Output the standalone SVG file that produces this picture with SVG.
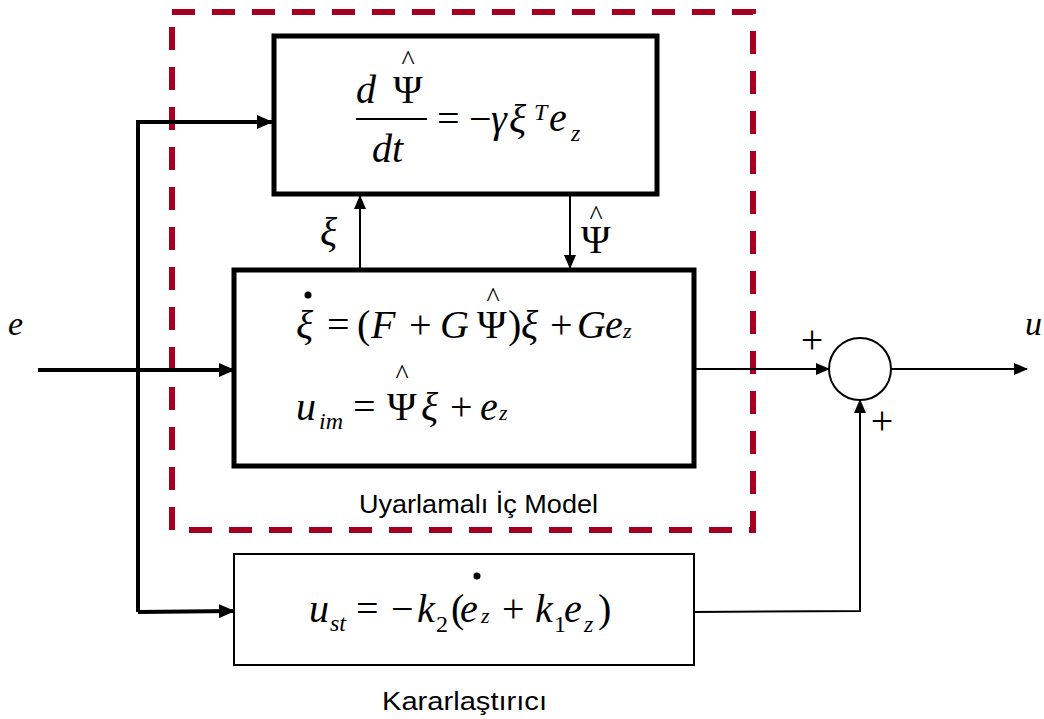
<svg xmlns="http://www.w3.org/2000/svg" width="1044" height="719" viewBox="0 0 1044 719">
<style>
.m{font-family:"Liberation Serif","Times New Roman",serif;fill:#000;font-size:40px}
.s{font-size:24px}
.z{font-size:22px}
.t{font-size:34px}
.h{font-size:28px;text-anchor:middle}
.i{font-style:italic}
.lbl{font-family:"Liberation Sans",Arial,sans-serif;fill:#000}
.thick{stroke:#000;stroke-width:4;fill:none}
.thin{stroke:#000;stroke-width:2;fill:none}
</style>
<defs>
<marker id="ah" markerUnits="userSpaceOnUse" markerWidth="16" markerHeight="14" refX="15" refY="7" orient="auto">
<path d="M0,0 L16,7 L0,14 Z" fill="#000"/>
</marker>
<marker id="as" markerUnits="userSpaceOnUse" markerWidth="14" markerHeight="12" refX="13" refY="6" orient="auto">
<path d="M0,0 L14,6 L0,12 Z" fill="#000"/>
</marker>
</defs>
<rect x="0" y="0" width="1044" height="719" fill="#fff"/>

<g id="dashed-frame">
<rect x="172" y="12" width="581" height="518" fill="none" stroke="#A50021" stroke-width="6" stroke-dasharray="23,17"/>
</g>

<g id="connectors">
<line class="thick" x1="38" y1="370" x2="234" y2="370" marker-end="url(#ah)"/>
<polyline class="thick" points="138,612 138,122 272,122" marker-end="url(#ah)"/>
<line class="thick" x1="138" y1="612" x2="234" y2="611" marker-end="url(#ah)"/>
<line class="thin" x1="360" y1="268" x2="360" y2="196" marker-end="url(#as)"/>
<line class="thin" x1="570" y1="196" x2="570" y2="268" marker-end="url(#as)"/>
<line class="thin" x1="694" y1="369" x2="829" y2="369" marker-end="url(#as)"/>
<line class="thin" x1="891" y1="369" x2="1027" y2="369" marker-end="url(#as)"/>
<polyline class="thin" points="694,612 860,611 860,400" marker-end="url(#as)"/>
</g>

<g id="update-law">
<rect x="274" y="36" width="383" height="158" fill="#fff" stroke="#000" stroke-width="5"/>
<text class="m i" x="356" y="103">d</text>
<text class="m" x="393" y="103">Ψ</text>
<text class="m h" x="408" y="69">^</text>
<line x1="356" y1="119" x2="427" y2="119" stroke="#000" stroke-width="2"/>
<text class="m i" x="372" y="162">dt</text>
<text class="m" x="437" y="132">=</text>
<text class="m" x="469" y="132">−</text>
<text class="m i" x="491" y="132">γ</text>
<text class="m i" x="509" y="132">ξ</text>
<text class="m i s" x="534" y="120">T</text>
<text class="m i" x="549" y="131">e</text>
<text class="m i s" x="571" y="141">z</text>
</g>

<g id="internal-model">
<rect x="234" y="270" width="460" height="196" fill="#fff" stroke="#000" stroke-width="5"/>
<text class="m i" x="296" y="338">ξ</text>
<circle cx="308" cy="295" r="3.5" fill="#000"/>
<text class="m" x="327" y="338">=</text>
<text class="m" x="357" y="338">(</text>
<text class="m i" x="371" y="338">F</text>
<text class="m" x="409" y="338">+</text>
<text class="m i" x="440" y="338">G</text>
<text class="m" x="477" y="338">Ψ</text>
<text class="m h" x="493" y="306">^</text>
<text class="m" x="508" y="338">)</text>
<text class="m i" x="521" y="338">ξ</text>
<text class="m" x="550" y="338">+</text>
<text class="m i" x="577" y="338">G</text>
<text class="m i" x="605" y="338">e</text>
<text class="m i z" x="623" y="338">z</text>

<text class="m i" x="296" y="420">u</text>
<text class="m i s" x="319" y="429">im</text>
<text class="m" x="353" y="420">=</text>
<text class="m" x="387" y="420">Ψ</text>
<text class="m h" x="402" y="383">^</text>
<text class="m i" x="421" y="420">ξ</text>
<text class="m" x="450" y="420">+</text>
<text class="m i" x="480" y="420">e</text>
<text class="m i z" x="499" y="420">z</text>
</g>

<g id="model-label">
<text class="lbl" x="359" y="513" font-size="26" textLength="239" lengthAdjust="spacingAndGlyphs">Uyarlamalı İç Model</text>
</g>

<g id="stabilizer">
<rect x="234" y="554" width="460" height="111" fill="#fff" stroke="#000" stroke-width="2"/>
<text class="m i" x="309" y="622">u</text>
<text class="m i s" x="330" y="631">st</text>
<text class="m" x="356" y="622">=</text>
<text class="m" x="391" y="622">−</text>
<text class="m i" x="417" y="622">k</text>
<text class="m s" x="436" y="632">2</text>
<text class="m" x="451" y="622">(</text>
<text class="m i" x="460" y="622">e</text>
<circle cx="477" cy="576" r="3.5" fill="#000"/>
<text class="m i z" x="481" y="623">z</text>
<text class="m" x="502" y="622">+</text>
<text class="m i" x="535" y="622">k</text>
<text class="m s" x="554" y="632">1</text>
<text class="m i" x="564" y="622">e</text>
<text class="m i s" x="584" y="632">z</text>
<text class="m" x="598" y="622">)</text>
</g>

<g id="stabilizer-label">
<text class="lbl" x="382" y="710" font-size="25" textLength="165" lengthAdjust="spacingAndGlyphs">Kararlaştırıcı</text>
</g>

<g id="sum">
<circle cx="860" cy="369" r="31" fill="#fff" stroke="#000" stroke-width="2"/>
</g>

<g id="signal-labels">
<text class="m i t" x="8" y="335">e</text>
<text class="m i t" x="1025" y="335">u</text>
<text class="m i" x="320" y="245">ξ</text>
<text class="m" x="581" y="253">Ψ</text>
<text class="m h" x="596" y="224">^</text>
<text class="m" x="812" y="353" text-anchor="middle" fill="#333">+</text>
<text class="m" x="882" y="434" text-anchor="middle" fill="#333">+</text>
</g>
</svg>
